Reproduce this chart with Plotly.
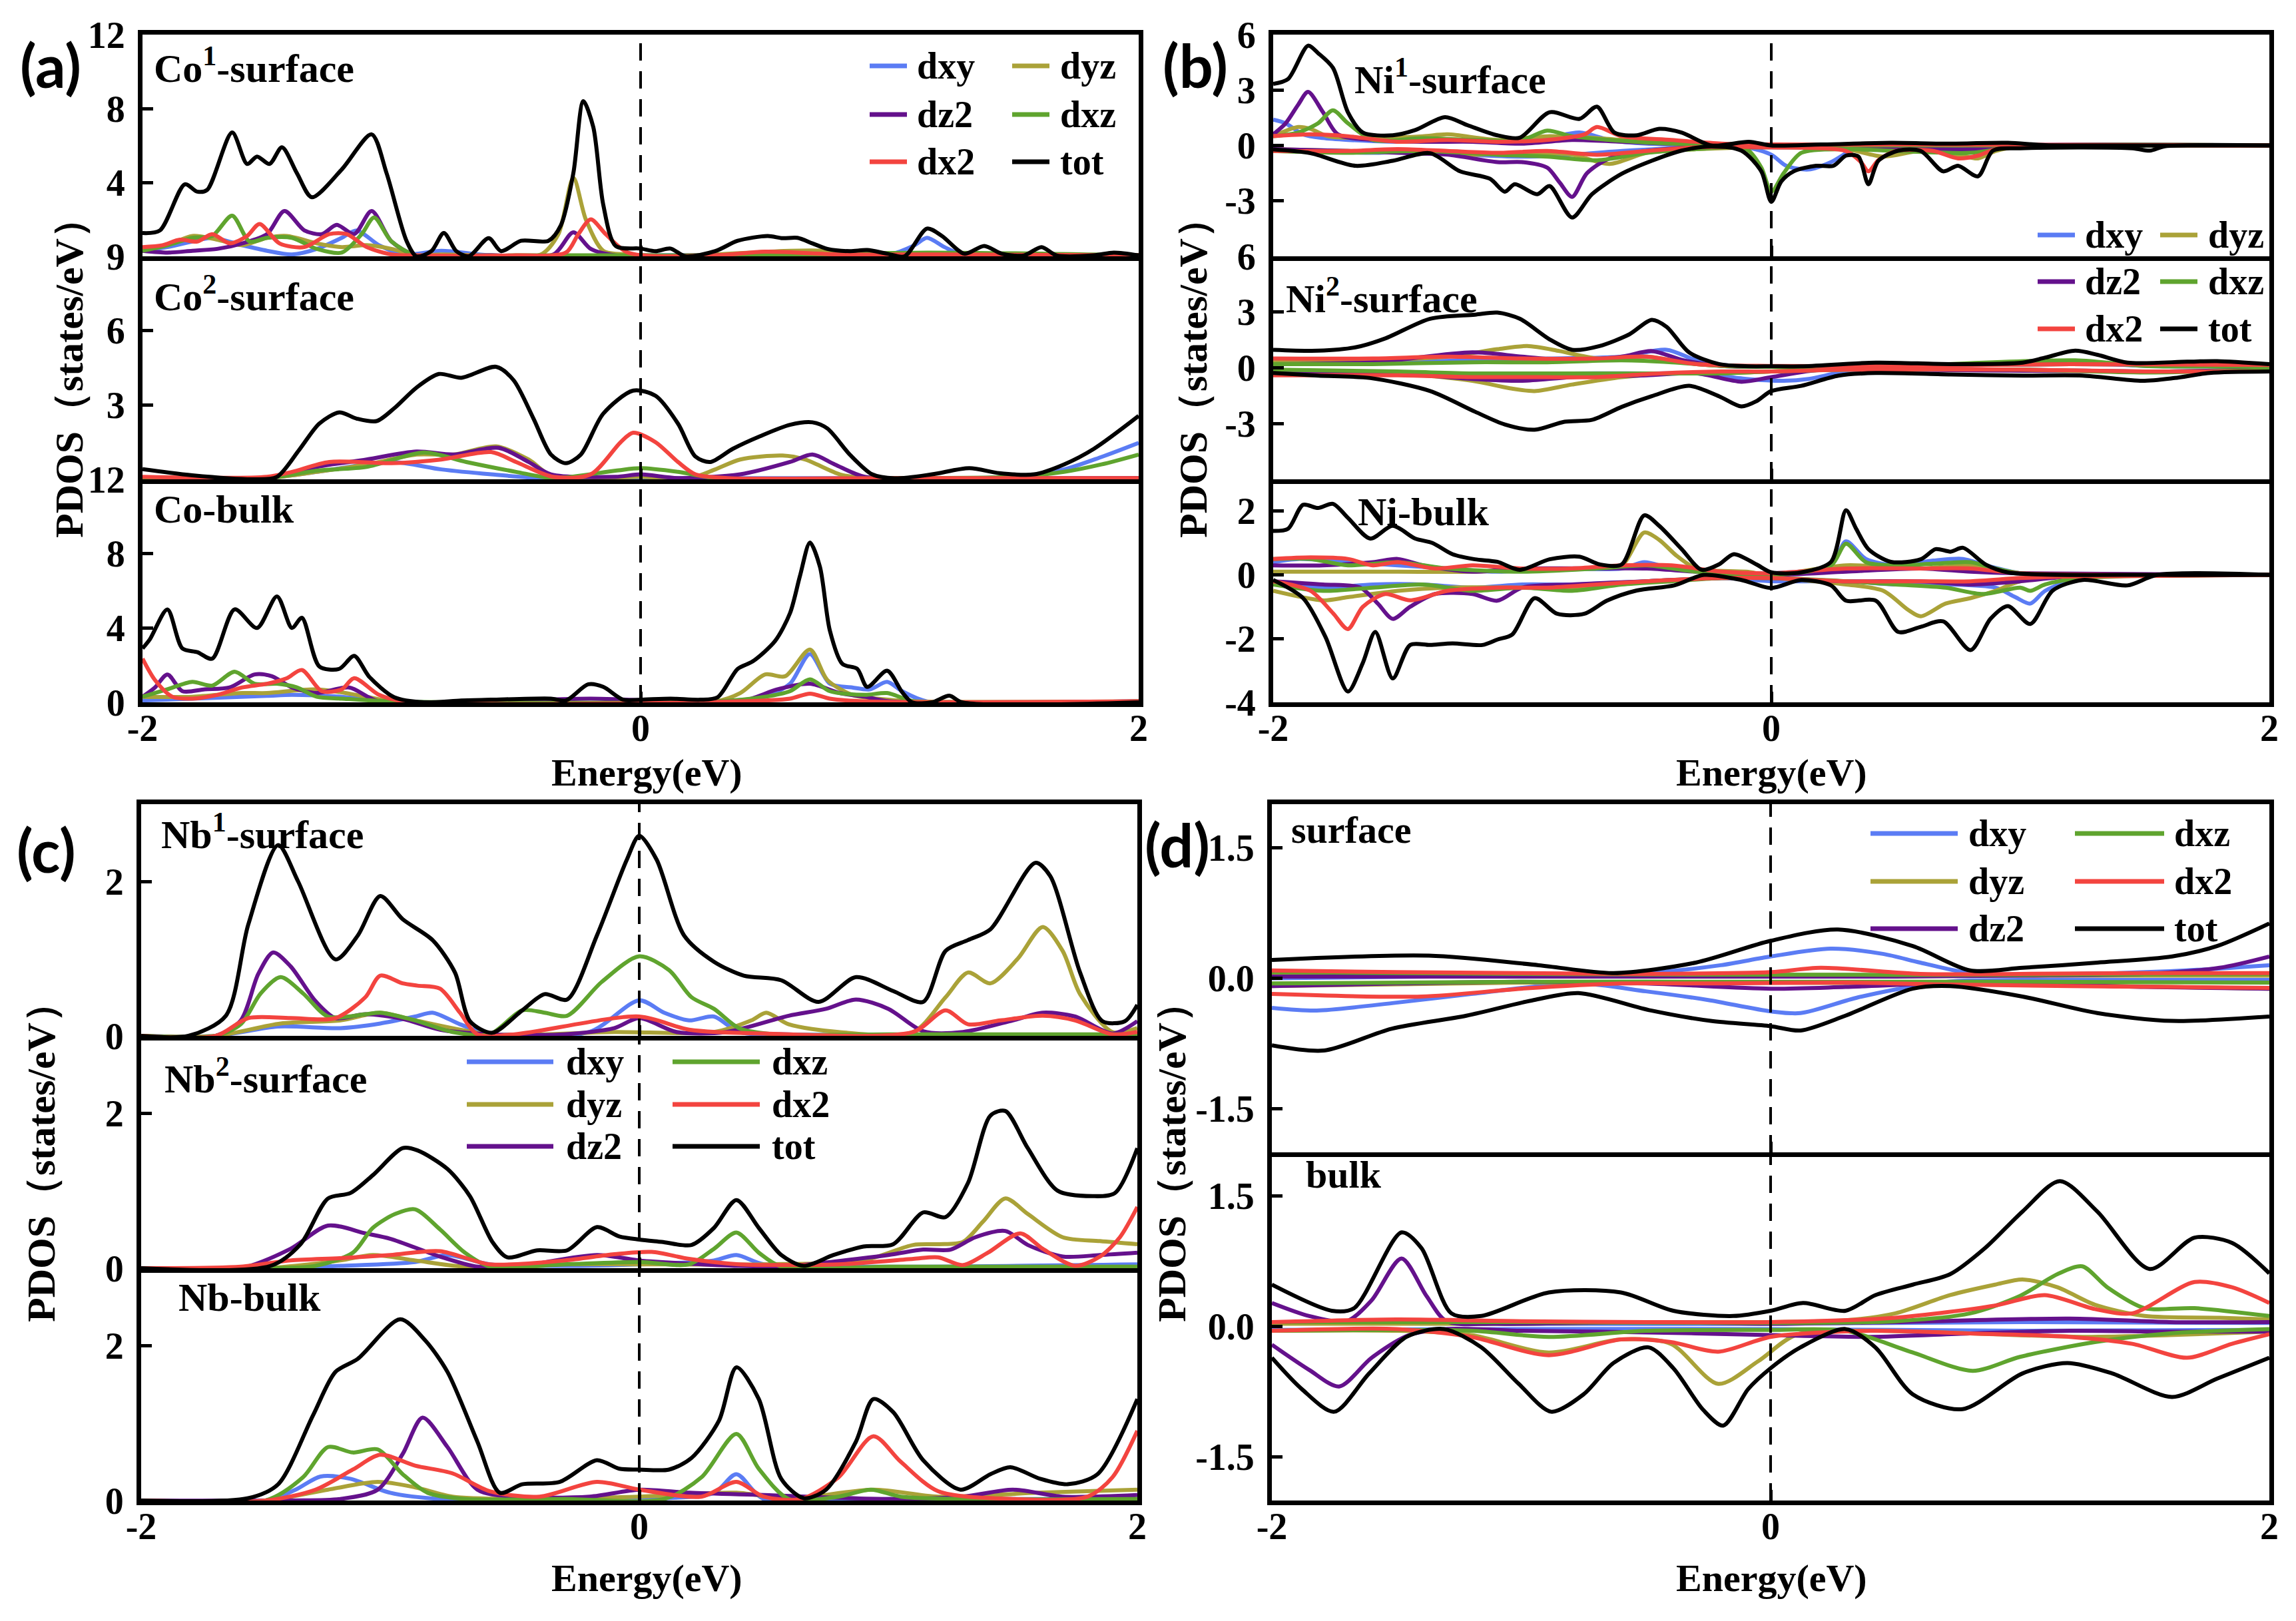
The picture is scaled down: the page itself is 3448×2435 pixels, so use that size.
import plotly.graph_objects as go

# ---------------- data (energy in eV, PDOS in states/eV) ----------------
# (a) Co1-surface
co1_tot_x = [-2.00, -1.93, -1.83, -1.78, -1.74, -1.64, -1.58, -1.54, -1.49, -1.44, -1.38, -1.32, -1.20, -1.08,
             -1.02, -0.94, -0.90, -0.84, -0.79, -0.74, -0.69, -0.61, -0.56, -0.48, -0.37, -0.32, -0.27, -0.23,
             -0.19, -0.15, -0.10, 0.00, 0.06, 0.12, 0.18, 0.30, 0.39, 0.51, 0.57, 0.63, 0.69, 0.75, 0.84, 0.91,
             0.99, 1.06, 1.15, 1.21, 1.30, 1.38, 1.45, 1.54, 1.61, 1.67, 1.82, 1.90, 2.00]
co1_tot = [1.26, 1.40, 3.9, 3.5, 3.6, 6.7, 5.0, 5.4, 5.0, 5.9, 4.5, 3.2, 4.7, 6.6, 4.5, 0.84, 0.0, 0.28, 1.26,
           0.28, 0.0, 0.98, 0.28, 0.84, 0.84, 1.68, 4.5, 8.4, 7.0, 2.8, 0.56, 0.42, 0.28, 0.42, 0.0, 0.28, 0.84,
           1.1, 0.98, 1.0, 0.7, 0.4, 0.28, 0.34, 0.14, 0.0, 1.5, 1.1, 0.14, 0.56, 0.14, 0.05, 0.5, 0.05, 0.05,
           0.2, 0.05]
co1_dyz_x = [-2, -1.9, -1.8, -1.7, -1.6, -1.5, -1.42, -1.3, -1.2, -1.1, -1.0, -0.9, -0.8, -0.6, -0.4, -0.33,
             -0.27, -0.22, -0.15, -0.05, 0.2, 0.6, 0.75, 1.0, 1.5, 2.0]
co1_dyz = [0.3, 0.6, 1.1, 0.9, 0.6, 1.0, 1.1, 0.7, 0.5, 0.6, 0.4, 0.05, 0.1, 0.05, 0.1, 1.2, 4.25, 2.0, 0.3,
           0.1, 0.05, 0.3, 0.3, 0.05, 0.05, 0.05]
co1_dxz_x = [-2, -1.9, -1.8, -1.72, -1.64, -1.57, -1.5, -1.4, -1.3, -1.2, -1.12, -1.07, -1.0, -0.9, -0.5, 0,
             0.5, 1.15, 2]
co1_dxz = [0.3, 0.6, 1.0, 1.1, 2.2, 0.8, 1.0, 1.0, 0.4, 0.2, 1.2, 2.1, 0.8, 0.05, 0.05, 0.05, 0.05, 0.2, 0.05]
co1_dz2_x = [-2, -1.9, -1.8, -1.7, -1.6, -1.5, -1.43, -1.35, -1.28, -1.22, -1.15, -1.08, -1.0, -0.9, -0.6,
             -0.35, -0.27, -0.2, -0.1, 0.3, 2]
co1_dz2 = [0.3, 0.2, 0.3, 0.4, 0.7, 1.2, 2.45, 1.4, 1.2, 1.7, 1.2, 2.45, 0.8, 0.05, 0.05, 0.1, 1.3, 0.4, 0.05,
           0.05, 0.05]
co1_dx2_x = [-2, -1.92, -1.85, -1.78, -1.72, -1.65, -1.58, -1.53, -1.45, -1.35, -1.25, -1.18, -1.1, -1.0,
             -0.9, -0.5, -0.3, -0.25, -0.2, -0.14, -0.05, 0.3, 0.5, 0.8, 1.2, 2]
co1_dx2 = [0.5, 0.6, 0.9, 0.8, 1.2, 0.7, 1.1, 1.75, 0.7, 0.5, 1.2, 1.2, 0.5, 0.1, 0.05, 0.05, 0.2, 1.2, 2.0,
           1.2, 0.2, 0.05, 0.25, 0.1, 0.1, 0.05]
co1_dxy_x = [-2, -1.9, -1.8, -1.72, -1.6, -1.5, -1.4, -1.3, -1.2, -1.14, -1.05, -0.95, -0.8, -0.6, 0, 0.5,
             1.0, 1.1, 1.15, 1.22, 1.3, 2]
co1_dxy = [0.3, 0.5, 0.8, 1.0, 0.6, 0.3, 0.1, 0.4, 1.0, 1.4, 0.6, 0.1, 0.3, 0.05, 0.05, 0.1, 0.1, 0.6, 1.0,
           0.5, 0.05, 0.05]

# (a) Co2-surface
co2_tot_x = [-2.00, -1.80, -1.55, -1.46, -1.37, -1.29, -1.21, -1.14, -1.06, -0.99, -0.90, -0.81, -0.72, -0.58,
             -0.51, -0.43, -0.36, -0.30, -0.24, -0.15, -0.03, 0.06, 0.15, 0.22, 0.28, 0.37, 0.48, 0.60, 0.69,
             0.75, 0.84, 0.93, 1.02, 1.17, 1.32, 1.44, 1.58, 1.70, 1.82, 2.00]
co2_tot = [0.41, 0.16, 0.0, 0.1, 1.2, 2.25, 2.7, 2.45, 2.35, 2.86, 3.7, 4.25, 4.1, 4.54, 4.0, 2.45, 1.0, 0.65,
           1.0, 2.65, 3.58, 3.37, 2.25, 0.92, 0.7, 1.23, 1.74, 2.2, 2.3, 2.05, 1.0, 0.2, 0.04, 0.2, 0.45, 0.25,
           0.2, 0.6, 1.23, 2.56]
co2_dx2_x = [-2, -1.5, -1.4, -1.25, -1.0, -0.8, -0.6, -0.5, -0.35, -0.2, -0.08, -0.03, 0.06, 0.15, 0.22, 0.35,
             1, 2]
co2_dx2 = [0.1, 0.1, 0.3, 0.7, 0.65, 0.8, 1.1, 0.7, 0.1, 0.2, 1.5, 1.88, 1.5, 0.7, 0.2, 0.05, 0.05, 0.05]
co2_dz2_x = [-2, -1.5, -1.3, -1.1, -0.9, -0.75, -0.57, -0.45, -0.36, -0.1, 0, 0.15, 0.4, 0.6, 0.69, 0.78, 0.9,
             1.2, 2]
co2_dz2 = [0.05, 0.05, 0.5, 0.8, 1.12, 1.0, 1.27, 0.7, 0.2, 0.1, 0.2, 0.05, 0.2, 0.7, 1.0, 0.6, 0.1, 0.05, 0.05]
co2_dyz_x = [-2, -1.5, -1.3, -1.1, -0.9, -0.75, -0.58, -0.45, -0.35, 0, 0.2, 0.3, 0.4, 0.57, 0.66, 0.8, 0.9, 2]
co2_dyz = [0.05, 0.05, 0.3, 0.6, 1.0, 1.0, 1.33, 0.8, 0.1, 0.1, 0.05, 0.4, 0.8, 0.96, 0.8, 0.2, 0.05, 0.05]
co2_dxz_x = [-2, -1.5, -1.3, -1.1, -0.87, -0.7, -0.5, -0.35, -0.1, 0.0, 0.15, 0.3, 1.0, 1.5, 1.7, 1.85, 2]
co2_dxz = [0.05, 0.05, 0.35, 0.5, 1.08, 0.7, 0.3, 0.05, 0.35, 0.45, 0.3, 0.05, 0.05, 0.1, 0.3, 0.6, 1.0]
co2_dxy_x = [-2, -1.5, -1.3, -1.0, -0.8, -0.6, -0.4, 0, 0.5, 1.0, 1.5, 1.7, 1.85, 2]
co2_dxy = [0.05, 0.05, 0.3, 0.7, 0.4, 0.2, 0.05, 0.05, 0.05, 0.05, 0.1, 0.4, 0.9, 1.47]

# (a) Co-bulk
cob_tot_x = [-2.00, -1.97, -1.90, -1.84, -1.78, -1.72, -1.63, -1.54, -1.46, -1.40, -1.36, -1.29, -1.21, -1.15,
             -1.09, -0.99, -0.87, -0.72, -0.60, -0.36, -0.30, -0.21, -0.15, -0.07, 0.00, 0.12, 0.24, 0.31, 0.39,
             0.45, 0.54, 0.60, 0.64, 0.68, 0.72, 0.76, 0.81, 0.87, 0.91, 0.99, 1.05, 1.09, 1.17, 1.24, 1.29, 2.00]
cob_tot = [2.9, 3.4, 5.0, 2.9, 2.7, 2.35, 5.0, 4.0, 5.7, 4.0, 4.55, 1.93, 1.8, 2.5, 1.38, 0.28, 0.0, 0.1, 0.14,
           0.2, 0.1, 0.97, 0.83, 0.14, 0.14, 0.2, 0.14, 0.28, 1.8, 2.2, 3.3, 4.8, 6.8, 8.6, 7.3, 3.86, 2.07, 1.8,
           0.83, 1.7, 0.55, 0.0, 0.0, 0.36, 0.0, 0.0]
cob_dyz_x = [-2, -1.8, -1.6, -1.5, -1.3, -1.1, -1, 0.3, 0.4, 0.5, 0.58, 0.68, 0.75, 0.85, 0.95, 1.1, 2]
cob_dyz = [0.3, 0.3, 0.5, 0.5, 0.7, 0.3, 0.05, 0.05, 0.5, 1.5, 1.4, 2.84, 1.2, 0.4, 0.2, 0.05, 0.05]
cob_dxy_x = [-2, -1.8, -1.5, -1.4, -1.2, -1.0, 0.3, 0.5, 0.6, 0.68, 0.76, 0.85, 0.92, 0.99, 1.05, 1.15, 2]
cob_dxy = [0.1, 0.2, 0.35, 0.4, 0.3, 0.05, 0.05, 0.3, 1.0, 2.6, 1.0, 0.8, 0.7, 1.1, 0.6, 0.05, 0.05]
cob_dxz_x = [-2, -1.9, -1.8, -1.72, -1.63, -1.55, -1.46, -1.38, -1.3, -1.2, -1.0, 0.3, 0.5, 0.6, 0.68, 0.76,
             0.9, 0.99, 1.1, 2]
cob_dxz = [0.3, 0.7, 1.1, 0.9, 1.65, 1.0, 1.0, 0.8, 0.3, 0.2, 0.05, 0.05, 0.3, 0.6, 1.24, 0.6, 0.4, 0.5, 0.05,
           0.05]
cob_dz2_x = [-2, -1.95, -1.9, -1.84, -1.75, -1.65, -1.55, -1.48, -1.4, -1.3, -1.17, -1.05, -0.2, 0.4, 0.55, 0.68,
             0.8, 0.9, 1.0, 2]
cob_dz2 = [0.3, 0.8, 1.5, 0.6, 0.7, 0.8, 1.5, 1.4, 0.8, 0.5, 0.8, 0.05, 0.2, 0.05, 0.7, 1.0, 0.5, 0.3, 0.05, 0.05]
cob_dx2_x = [-2, -1.95, -1.88, -1.8, -1.7, -1.6, -1.5, -1.42, -1.36, -1.28, -1.2, -1.15, -1.05, -0.95, 0.4, 0.6,
             0.68, 0.76, 0.9, 2]
cob_dx2 = [2.35, 1.2, 0.3, 0.2, 0.4, 0.8, 1.0, 1.3, 1.74, 0.6, 0.7, 1.3, 0.4, 0.05, 0.05, 0.2, 0.47, 0.2, 0.05,
           0.05]

# (b) Ni1-surface, spin up / spin down
ni1_tot_up_x = [-2.00, -1.94, -1.86, -1.82, -1.76, -1.70, -1.64, -1.52, -1.43, -1.31, -1.22, -1.10, -1.01, -0.89,
                -0.77, -0.70, -0.63, -0.54, -0.45, -0.36, -0.24, -0.09, 0.00, 0.20, 0.48, 0.70, 0.95, 1.10, 1.50,
                2.00]
ni1_tot_up = [3.33, 3.6, 5.4, 5.0, 4.2, 1.8, 0.7, 0.55, 0.83, 1.53, 1.1, 0.55, 0.42, 1.8, 1.44, 2.1, 0.7, 0.55,
              0.9, 0.7, 0.0, 0.2, 0.0, 0.05, 0.14, 0.1, 0.14, 0.02, 0.0, 0.0]
ni1_tot_dn_x = [-2.00, -1.85, -1.67, -1.52, -1.37, -1.25, -1.13, -1.07, -1.03, -0.94, -0.89, -0.80, -0.72, -0.60,
                -0.48, -0.36, -0.24, -0.12, -0.04, 0.00, 0.04, 0.09, 0.18, 0.25, 0.30, 0.35, 0.39, 0.43, 0.51,
                0.60, 0.69, 0.75, 0.83, 0.89, 1.00, 1.45, 1.52, 1.58, 2.00]
ni1_tot_dn = [-0.22, -0.42, -1.1, -0.83, -0.42, -1.4, -1.8, -2.5, -2.1, -2.64, -2.2, -3.9, -2.64, -1.53, -0.83,
              -0.28, -0.05, -0.28, -1.4, -3.05, -1.95, -1.4, -1.1, -1.1, -0.55, -0.6, -2.1, -0.83, -0.28, -0.3,
              -1.4, -1.1, -1.67, -0.28, -0.15, -0.15, -0.28, -0.05, 0.0]
ni1_dxy_up_x = [-2, -1.95, -1.88, -1.8, -1.7, -1.5, -1.3, -1.1, -0.9, -0.77, -0.65, -0.5, -0.3, 0, 0.5, 1, 2]
ni1_dxy_up = [1.4, 1.2, 0.6, 0.4, 0.3, 0.2, 0.3, 0.2, 0.4, 0.7, 0.3, 0.1, 0.05, 0.0, 0.02, 0.02, 0]
ni1_dz2_up_x = [-2, -1.95, -1.9, -1.86, -1.8, -1.74, -1.6, -1.4, -1.2, -1.0, -0.8, -0.6, -0.3, 0, 2]
ni1_dz2_up = [0.6, 1.2, 2.2, 2.9, 1.8, 0.6, 0.3, 0.2, 0.2, 0.1, 0.3, 0.2, 0.05, 0, 0]
ni1_dxz_up_x = [-2, -1.9, -1.82, -1.76, -1.7, -1.6, -1.4, -1.2, -1.0, -0.9, -0.8, -0.65, -0.4, 0, 2]
ni1_dxz_up = [0.5, 0.7, 1.2, 1.9, 1.2, 0.3, 0.4, 0.3, 0.3, 0.8, 0.5, 0.3, 0.1, 0, 0]
ni1_dyz_up_x = [-2, -1.9, -1.85, -1.78, -1.6, -1.4, -1.3, -1.1, -0.9, -0.7, -0.5, -0.2, 0, 2]
ni1_dyz_up = [0.5, 1.0, 0.9, 0.5, 0.4, 0.5, 0.6, 0.3, 0.5, 0.4, 0.2, 0.05, 0, 0]
ni1_dx2_up_x = [-2, -1.85, -1.7, -1.5, -1.3, -1.1, -0.9, -0.75, -0.7, -0.6, -0.4, -0.2, 0, 0.5, 2]
ni1_dx2_up = [0.5, 0.6, 0.5, 0.2, 0.3, 0.2, 0.3, 0.6, 1.0, 0.5, 0.3, 0.1, 0.05, 0.05, 0]
ni1_dxy_dn_x = [-2, -1.8, -1.6, -1.4, -1.2, -1.0, -0.8, -0.6, -0.3, -0.1, 0, 0.06, 0.15, 0.24, 0.32, 0.4, 0.6,
                0.8, 1.0, 2]
ni1_dxy_dn = [-0.3, -0.3, -0.4, -0.3, -0.5, -0.6, -0.5, -0.3, -0.1, -0.1, -0.5, -1.1, -1.3, -0.9, -0.3, -0.2,
              -0.2, -0.3, -0.05, 0]
ni1_dz2_dn_x = [-2, -1.7, -1.5, -1.3, -1.1, -1.0, -0.9, -0.85, -0.8, -0.74, -0.65, -0.5, -0.3, 0, 0.4, 0.8, 1, 2]
ni1_dz2_dn = [-0.2, -0.3, -0.4, -0.5, -0.9, -0.9, -1.2, -2.0, -2.78, -1.5, -0.7, -0.3, -0.1, -0.1, -0.1, -0.2,
              0, 0]
ni1_dxz_dn_x = [-2, -1.7, -1.4, -1.1, -0.9, -0.7, -0.5, -0.3, -0.1, -0.04, 0, 0.05, 0.12, 0.3, 0.5, 0.8, 1, 2]
ni1_dxz_dn = [-0.3, -0.4, -0.3, -0.5, -0.6, -0.8, -0.4, -0.2, -0.2, -1.2, -2.5, -1.5, -0.4, -0.2, -0.3, -0.4,
              -0.05, 0]
ni1_dyz_dn_x = [-2, -1.7, -1.4, -1.2, -1.0, -0.8, -0.65, -0.5, -0.3, 0, 0.3, 0.45, 0.6, 0.75, 0.83, 0.9, 1.0, 2]
ni1_dyz_dn = [-0.2, -0.3, -0.4, -0.5, -0.4, -0.5, -1.0, -0.4, -0.2, -0.1, -0.2, -0.6, -0.3, -0.5, -0.7, -0.3,
              -0.05, 0]
ni1_dx2_dn_x = [-2, -1.7, -1.5, -1.3, -1.1, -0.9, -0.7, -0.5, -0.3, 0, 0.3, 0.36, 0.39, 0.43, 0.5, 0.65, 0.75,
                0.83, 0.9, 1.0, 2]
ni1_dx2_dn = [-0.3, -0.3, -0.2, -0.3, -0.4, -0.3, -0.5, -0.3, -0.1, -0.1, -0.3, -0.9, -1.4, -0.8, -0.3, -0.3,
              -0.7, -0.55, -0.2, -0.05, 0]

# (b) Ni2-surface
ni2_tot_up_x = [-2.00, -1.82, -1.67, -1.55, -1.37, -1.19, -1.10, -1.01, -0.89, -0.80, -0.69, -0.57, -0.48, -0.42,
                -0.33, -0.21, -0.09, 0.00, 0.12, 0.42, 0.72, 1.01, 1.10, 1.22, 1.31, 1.43, 1.67, 1.79, 2.00]
ni2_tot_up = [0.97, 0.92, 1.1, 1.58, 2.64, 2.86, 2.97, 2.64, 1.53, 0.97, 1.17, 1.8, 2.58, 2.2, 0.83, 0.2, 0.08,
              0.08, 0.08, 0.28, 0.2, 0.28, 0.55, 0.92, 0.7, 0.28, 0.33, 0.36, 0.2]
ni2_tot_dn_x = [-2.00, -1.82, -1.61, -1.37, -1.19, -1.07, -0.95, -0.83, -0.72, -0.60, -0.48, -0.33, -0.21, -0.12,
                -0.06, 0.00, 0.12, 0.27, 0.42, 0.72, 1.01, 1.25, 1.49, 1.62, 1.76, 2.00]
ni2_tot_dn = [-0.28, -0.42, -0.55, -1.25, -2.36, -3.05, -3.33, -2.9, -2.8, -2.1, -1.53, -0.97, -1.53, -2.08, -1.8,
              -1.25, -0.97, -0.42, -0.28, -0.36, -0.42, -0.42, -0.7, -0.55, -0.28, -0.2]
ni2_dxy_up_x = [-2, -1.6, -1.2, -0.9, -0.6, -0.42, -0.3, -0.15, 0, 0.5, 1.22, 1.5, 2]
ni2_dxy_up = [0.3, 0.3, 0.4, 0.5, 0.6, 0.97, 0.4, 0.1, 0.05, 0.1, 0.3, 0.1, 0.1]
ni2_dz2_up_x = [-2, -1.6, -1.2, -1.0, -0.8, -0.6, -0.48, -0.35, -0.2, 0, 0.5, 1.2, 2]
ni2_dz2_up = [0.2, 0.3, 0.83, 0.6, 0.4, 0.6, 0.9, 0.4, 0.1, 0.05, 0.1, 0.2, 0.1]
ni2_dxz_up_x = [-2, -1.6, -1.2, -0.9, -0.6, -0.4, -0.2, 0, 0.5, 1.22, 1.5, 2]
ni2_dxz_up = [0.2, 0.2, 0.3, 0.3, 0.4, 0.3, 0.1, 0.05, 0.1, 0.4, 0.1, 0.1]
ni2_dyz_up_x = [-2, -1.6, -1.3, -1.1, -0.98, -0.85, -0.7, -0.5, -0.3, 0, 0.5, 1.2, 2]
ni2_dyz_up = [0.3, 0.4, 0.6, 1.0, 1.17, 0.9, 0.5, 0.6, 0.2, 0.05, 0.1, 0.2, 0.1]
ni2_dx2_up_x = [-2, -1.6, -1.3, -1.0, -0.7, -0.5, -0.3, 0, 0.5, 1.2, 2]
ni2_dx2_up = [0.5, 0.5, 0.6, 0.5, 0.5, 0.6, 0.2, 0.1, 0.1, 0.2, 0.15]
ni2_dxy_dn_x = [-2, -1.5, -1.1, -0.8, -0.5, -0.3, -0.1, 0.05, 0.15, 0.3, 0.5, 1.0, 1.5, 2]
ni2_dxy_dn = [-0.2, -0.3, -0.4, -0.3, -0.3, -0.3, -0.6, -0.7, -0.6, -0.2, -0.1, -0.1, -0.2, -0.1]
ni2_dz2_dn_x = [-2, -1.5, -1.2, -1.0, -0.8, -0.5, -0.3, -0.12, 0, 0.2, 0.5, 1.5, 2]
ni2_dz2_dn = [-0.2, -0.3, -0.6, -0.7, -0.5, -0.4, -0.3, -0.75, -0.5, -0.1, -0.1, -0.2, -0.1]
ni2_dxz_dn_x = [-2, -1.5, -1.2, -0.9, -0.5, -0.2, 0, 0.3, 1.0, 1.5, 2]
ni2_dxz_dn = [-0.1, -0.2, -0.3, -0.3, -0.3, -0.3, -0.2, -0.1, -0.1, -0.25, -0.1]
ni2_dyz_dn_x = [-2, -1.5, -1.2, -1.05, -0.95, -0.8, -0.6, -0.4, -0.2, 0, 0.3, 1.0, 1.5, 2]
ni2_dyz_dn = [-0.2, -0.3, -0.7, -1.1, -1.25, -0.9, -0.5, -0.3, -0.3, -0.2, -0.1, -0.1, -0.2, -0.1]
ni2_dx2_dn_x = [-2, -1.5, -1.2, -1.0, -0.7, -0.45, -0.2, 0, 0.3, 1.0, 1.5, 2]
ni2_dx2_dn = [-0.4, -0.4, -0.5, -0.5, -0.5, -0.3, -0.2, -0.2, -0.1, -0.1, -0.2, -0.2]

# (b) Ni-bulk
nib_tot_up_x = [-2.00, -1.94, -1.88, -1.82, -1.76, -1.70, -1.61, -1.52, -1.43, -1.36, -1.28, -1.19, -1.10, -1.01,
                -0.89, -0.77, -0.69, -0.60, -0.51, -0.45, -0.36, -0.28, -0.21, -0.15, -0.06, 0.00, 0.12, 0.24,
                0.30, 0.34, 0.39, 0.48, 0.60, 0.66, 0.72, 0.77, 0.86, 0.95, 1.55, 2.00]
nib_tot_up = [1.38, 1.45, 2.2, 2.1, 2.23, 1.79, 1.14, 1.54, 1.14, 1.0, 0.65, 0.49, 0.41, 0.16, 0.49, 0.57, 0.33,
              0.33, 1.87, 1.54, 0.81, 0.16, 0.33, 0.65, 0.33, 0.08, 0.08, 0.41, 2.03, 1.46, 0.81, 0.41, 0.49,
              0.81, 0.73, 0.85, 0.33, 0.08, 0.0, 0.0]
nib_tot_dn_x = [-2.00, -1.88, -1.79, -1.70, -1.64, -1.59, -1.52, -1.45, -1.37, -1.28, -1.16, -1.10, -1.04, -0.95,
                -0.86, -0.75, -0.66, -0.54, -0.39, -0.27, -0.12, 0.00, 0.12, 0.24, 0.30, 0.42, 0.51, 0.60, 0.69,
                0.80, 0.88, 0.95, 1.04, 1.13, 1.25, 1.43, 1.55, 2.00]
nib_tot_dn = [-0.16, -0.73, -1.95, -3.66, -2.76, -1.79, -3.25, -2.2, -2.2, -2.15, -2.2, -2.03, -1.87, -0.73,
              -1.22, -1.22, -0.81, -0.49, -0.33, 0.0, -0.16, -0.41, -0.16, -0.33, -0.81, -0.81, -1.79, -1.63,
              -1.46, -2.36, -1.38, -0.98, -1.54, -0.49, -0.16, -0.33, 0.0, 0.0]
nib_dxy_up_x = [-2, -1.9, -1.7, -1.5, -1.3, -1.1, -0.9, -0.6, -0.51, -0.4, -0.2, 0, 0.24, 0.3, 0.38, 0.5, 0.65,
                0.77, 0.86, 1.0, 1.2, 2]
nib_dxy_up = [0.4, 0.5, 0.4, 0.3, 0.2, 0.1, 0.2, 0.2, 0.4, 0.2, 0.1, 0.05, 0.3, 1.05, 0.5, 0.3, 0.45, 0.5, 0.3,
              0.05, 0.02, 0]
nib_dz2_up_x = [-2, -1.8, -1.6, -1.5, -1.4, -1.2, -1.0, -0.7, -0.5, -0.3, 0, 0.3, 0.6, 0.8, 1.0, 2]
nib_dz2_up = [0.3, 0.3, 0.4, 0.5, 0.3, 0.1, 0.2, 0.2, 0.2, 0.1, 0.0, 0.1, 0.2, 0.1, 0.05, 0]
nib_dxz_up_x = [-2, -1.85, -1.7, -1.5, -1.3, -1.0, -0.7, -0.5, -0.3, 0, 0.24, 0.3, 0.38, 0.5, 0.65, 0.8, 0.9,
                1.0, 2]
nib_dxz_up = [0.5, 0.5, 0.3, 0.4, 0.2, 0.1, 0.2, 0.3, 0.1, 0.0, 0.3, 0.98, 0.4, 0.3, 0.35, 0.4, 0.2, 0.05, 0]
nib_dyz_up_x = [-2, -1.8, -1.5, -1.2, -0.9, -0.7, -0.6, -0.51, -0.45, -0.38, -0.3, -0.1, 0, 0.3, 0.6, 0.8, 1.0, 2]
nib_dyz_up = [0.1, 0.1, 0.1, 0.1, 0.2, 0.2, 0.3, 1.33, 1.1, 0.6, 0.2, 0.1, 0.0, 0.3, 0.2, 0.3, 0.05, 0]
nib_dx2_up_x = [-2, -1.85, -1.7, -1.6, -1.5, -1.35, -1.2, -1.0, -0.8, -0.6, -0.4, -0.2, 0, 0.3, 0.6, 0.8, 1.0, 2]
nib_dx2_up = [0.5, 0.55, 0.5, 0.3, 0.4, 0.2, 0.3, 0.2, 0.2, 0.3, 0.3, 0.1, 0.05, 0.2, 0.2, 0.2, 0.05, 0]
nib_dxy_dn_x = [-2, -1.8, -1.6, -1.4, -1.2, -1.0, -0.8, -0.5, -0.2, 0, 0.3, 0.5, 0.7, 0.9, 0.98, 1.04, 1.1, 1.25, 2]
nib_dxy_dn = [-0.2, -0.4, -0.3, -0.3, -0.4, -0.3, -0.3, -0.2, -0.1, -0.2, -0.2, -0.3, -0.3, -0.4, -0.7, -0.9,
              -0.5, -0.1, 0]
nib_dz2_dn_x = [-2, -1.8, -1.65, -1.58, -1.52, -1.45, -1.35, -1.2, -1.1, -1.0, -0.8, -0.5, -0.2, 0, 0.3, 0.6, 0.8,
                1.0, 1.2, 2]
nib_dz2_dn = [-0.2, -0.3, -0.4, -0.9, -1.38, -1.0, -0.6, -0.6, -0.81, -0.4, -0.3, -0.2, -0.1, -0.1, -0.2, -0.2,
              -0.3, -0.2, -0.05, 0]
nib_dxz_dn_x = [-2, -1.8, -1.6, -1.4, -1.2, -1.0, -0.8, -0.6, -0.4, -0.2, 0, 0.3, 0.5, 0.7, 0.85, 1.0, 1.04, 1.1,
                1.25, 2]
nib_dxz_dn = [-0.3, -0.5, -0.4, -0.3, -0.5, -0.4, -0.5, -0.3, -0.2, -0.1, -0.1, -0.2, -0.3, -0.4, -0.6, -0.4,
              -0.5, -0.3, -0.1, 0]
nib_dyz_dn_x = [-2, -1.8, -1.7, -1.5, -1.3, -1.0, -0.8, -0.5, -0.2, 0, 0.3, 0.45, 0.55, 0.6, 0.7, 0.8, 0.9, 1.0,
                1.2, 2]
nib_dyz_dn = [-0.5, -0.8, -0.7, -0.5, -0.4, -0.4, -0.4, -0.2, -0.1, -0.1, -0.3, -0.5, -1.1, -1.3, -0.9, -0.73,
              -0.5, -0.2, -0.05, 0]
nib_dx2_dn_x = [-2, -1.85, -1.76, -1.7, -1.64, -1.55, -1.45, -1.3, -1.1, -0.9, -0.7, -0.5, -0.2, 0, 0.3, 0.6, 0.8,
                1.0, 1.2, 2]
nib_dx2_dn = [-0.2, -0.5, -1.2, -1.7, -1.0, -0.6, -0.8, -0.5, -0.4, -0.4, -0.3, -0.2, -0.1, -0.1, -0.2, -0.2,
              -0.2, -0.1, -0.05, 0]

# (c) Nb1-surface
nb1_tot_x = [-2.00, -1.81, -1.66, -1.57, -1.45, -1.37, -1.22, -1.13, -1.04, -0.95, -0.83, -0.74, -0.68, -0.59,
             -0.47, -0.38, -0.29, -0.17, -0.05, 0.00, 0.07, 0.18, 0.30, 0.42, 0.57, 0.72, 0.87, 1.02, 1.14, 1.23,
             1.32, 1.41, 1.59, 1.65, 1.77, 1.86, 1.95, 2.00]
nb1_tot = [0.0, 0.0, 0.26, 1.44, 2.47, 2.0, 0.99, 1.3, 1.81, 1.51, 1.24, 0.82, 0.19, 0.04, 0.33, 0.54, 0.47, 1.3,
           2.28, 2.59, 2.28, 1.3, 0.96, 0.78, 0.72, 0.44, 0.76, 0.58, 0.44, 1.1, 1.24, 1.38, 2.24, 2.07, 0.82,
           0.19, 0.19, 0.4]
nb1_dz2_x = [-2, -1.7, -1.6, -1.53, -1.47, -1.4, -1.3, -1.22, -1.1, -0.95, -0.8, -0.6, -0.3, -0.1, 0, 0.15, 0.35,
             0.6, 0.75, 0.87, 1.0, 1.14, 1.3, 1.5, 1.62, 1.75, 1.9, 2]
nb1_dz2 = [0, 0, 0.2, 0.8, 1.08, 0.9, 0.45, 0.23, 0.28, 0.22, 0.08, 0.02, 0.02, 0.1, 0.23, 0.05, 0.05, 0.26, 0.35,
           0.47, 0.35, 0.06, 0.05, 0.2, 0.3, 0.25, 0.03, 0.19]
nb1_dxz_x = [-2, -1.7, -1.6, -1.52, -1.44, -1.35, -1.25, -1.1, -1.04, -0.9, -0.75, -0.6, -0.47, -0.38, -0.29,
             -0.15, 0, 0.12, 0.21, 0.3, 0.4, 0.55, 1, 2]
nb1_dxz = [0, 0, 0.15, 0.55, 0.76, 0.55, 0.25, 0.28, 0.3, 0.2, 0.05, 0.02, 0.33, 0.3, 0.26, 0.7, 1.03, 0.85, 0.5,
           0.35, 0.1, 0.02, 0.02, 0.02]
nb1_dyz_x = [-2, -1.7, -1.44, -1.2, -1.04, -0.9, -0.6, -0.1, 0.3, 0.45, 0.51, 0.6, 0.8, 1.1, 1.23, 1.32, 1.41,
             1.52, 1.62, 1.7, 1.77, 1.9, 2]
nb1_dyz = [0, 0, 0.16, 0.2, 0.3, 0.2, 0.02, 0.05, 0.05, 0.2, 0.3, 0.15, 0.05, 0.05, 0.5, 0.82, 0.68, 1.0, 1.41,
           1.1, 0.54, 0.05, 0.1]
nb1_dx2_x = [-2, -1.7, -1.57, -1.4, -1.22, -1.1, -1.04, -0.95, -0.89, -0.8, -0.72, -0.65, -0.5, 0, 0.2, 0.5, 1.1,
             1.23, 1.32, 1.45, 1.62, 1.75, 1.9, 2]
nb1_dx2 = [0, 0, 0.23, 0.23, 0.23, 0.5, 0.78, 0.68, 0.65, 0.61, 0.3, 0.02, 0.02, 0.25, 0.08, 0.03, 0.05, 0.33,
           0.15, 0.2, 0.26, 0.2, 0.02, 0.05]
nb1_dxy_x = [-2, -1.7, -1.45, -1.2, -1.04, -0.9, -0.83, -0.72, -0.6, -0.2, 0, 0.1, 0.2, 0.3, 0.4, 0.6, 2]
nb1_dxy = [0, 0, 0.12, 0.1, 0.16, 0.25, 0.3, 0.15, 0.02, 0.05, 0.46, 0.3, 0.2, 0.25, 0.05, 0.02, 0.02]

# (c) Nb2-surface
nb2_tot_x = [-2.00, -1.48, -1.36, -1.25, -1.16, -1.07, -0.95, -0.89, -0.77, -0.68, -0.59, -0.53, -0.41, -0.29,
             -0.17, -0.08, 0.00, 0.09, 0.21, 0.30, 0.39, 0.48, 0.57, 0.66, 0.78, 0.90, 1.02, 1.14, 1.23, 1.32,
             1.41, 1.47, 1.56, 1.68, 1.82, 1.91, 2.00]
nb2_tot = [0.0, 0.03, 0.31, 0.9, 0.97, 1.2, 1.55, 1.52, 1.28, 0.93, 0.34, 0.14, 0.23, 0.23, 0.53, 0.41, 0.37,
           0.34, 0.3, 0.52, 0.88, 0.52, 0.17, 0.03, 0.17, 0.28, 0.31, 0.72, 0.66, 1.1, 1.97, 2.03, 1.55, 1.0,
           0.93, 0.97, 1.55]
nb2_dz2_x = [-2, -1.6, -1.4, -1.25, -1.1, -1.0, -0.8, -0.65, -0.5, -0.17, 0, 0.4, 0.6, 1.0, 1.14, 1.25, 1.35,
             1.47, 1.56, 1.7, 1.85, 2]
nb2_dz2 = [0, 0, 0.25, 0.55, 0.45, 0.38, 0.15, 0.02, 0.02, 0.17, 0.1, 0.03, 0.03, 0.17, 0.24, 0.24, 0.4, 0.48,
           0.3, 0.15, 0.17, 0.2]
nb2_dxz_x = [-2, -1.5, -1.3, -1.15, -1.07, -0.98, -0.9, -0.8, -0.7, -0.6, -0.3, 0, 0.2, 0.3, 0.39, 0.48, 0.57, 1, 2]
nb2_dxz = [0, 0, 0.03, 0.2, 0.52, 0.7, 0.76, 0.5, 0.2, 0.02, 0.05, 0.08, 0.05, 0.25, 0.46, 0.2, 0.02, 0.02, 0.02]
nb2_dyz_x = [-2, -1.5, -1.2, -1.07, -0.9, -0.7, -0.3, 0, 0.5, 0.9, 1.1, 1.2, 1.3, 1.38, 1.47, 1.56, 1.7, 1.85, 2]
nb2_dyz = [0, 0, 0.1, 0.17, 0.1, 0.02, 0.05, 0.05, 0.05, 0.1, 0.3, 0.31, 0.34, 0.6, 0.9, 0.7, 0.4, 0.35, 0.31]
nb2_dx2_x = [-2, -1.6, -1.4, -1.2, -1.0, -0.8, -0.6, -0.3, -0.1, 0.05, 0.2, 0.4, 0.8, 1.1, 1.2, 1.3, 1.4, 1.53,
             1.62, 1.75, 1.85, 1.93, 2]
nb2_dx2 = [0, 0.02, 0.1, 0.13, 0.17, 0.22, 0.05, 0.1, 0.18, 0.21, 0.12, 0.05, 0.05, 0.12, 0.14, 0.04, 0.2, 0.45,
           0.25, 0.03, 0.15, 0.4, 0.79]
nb2_dxy_x = [-2, -1.5, -1.2, -0.9, -0.77, -0.6, -0.3, 0, 0.3, 0.39, 0.5, 1.0, 2]
nb2_dxy = [0, 0, 0.03, 0.08, 0.17, 0.05, 0.03, 0.05, 0.1, 0.17, 0.05, 0.02, 0.05]

# (c) Nb-bulk
nbb_tot_x = [-2.00, -1.57, -1.45, -1.31, -1.22, -1.13, -0.96, -0.86, -0.77, -0.65, -0.56, -0.47, -0.32, -0.17,
             -0.08, 0.00, 0.12, 0.21, 0.32, 0.39, 0.48, 0.57, 0.66, 0.75, 0.87, 0.94, 1.02, 1.14, 1.29, 1.41, 1.49,
             1.61, 1.72, 1.84, 2.00]
nbb_tot = [0.0, 0.03, 0.21, 1.1, 1.66, 1.83, 2.34, 2.07, 1.66, 0.76, 0.1, 0.21, 0.24, 0.52, 0.41, 0.4, 0.4, 0.55,
           1.03, 1.72, 1.31, 0.28, 0.03, 0.14, 0.76, 1.31, 1.14, 0.52, 0.14, 0.34, 0.43, 0.28, 0.21, 0.34, 1.31]
nbb_dz2_x = [-2, -1.4, -1.2, -1.05, -0.95, -0.87, -0.77, -0.65, -0.5, -0.2, 0, 0.2, 0.5, 1.0, 1.3, 1.5, 1.7, 2]
nbb_dz2 = [0, 0, 0.02, 0.14, 0.6, 1.07, 0.69, 0.14, 0.05, 0.05, 0.14, 0.1, 0.07, 0.02, 0.05, 0.14, 0.05, 0.07]
nbb_dxz_x = [-2, -1.5, -1.35, -1.25, -1.15, -1.05, -0.95, -0.85, -0.7, -0.3, 0.1, 0.25, 0.39, 0.48, 0.6, 0.8,
             0.93, 1.05, 1.3, 2]
nbb_dxz = [0, 0, 0.3, 0.69, 0.62, 0.66, 0.34, 0.1, 0.02, 0.02, 0.02, 0.3, 0.86, 0.41, 0.02, 0.05, 0.14, 0.05,
           0.02, 0.02]
nbb_dx2_x = [-2, -1.5, -1.3, -1.15, -1.04, -0.9, -0.75, -0.6, -0.4, -0.17, 0, 0.25, 0.39, 0.5, 0.65, 0.8, 0.94,
             1.05, 1.2, 1.5, 1.8, 1.9, 2]
nbb_dx2 = [0, 0, 0.14, 0.4, 0.59, 0.45, 0.35, 0.12, 0.05, 0.24, 0.14, 0.05, 0.24, 0.05, 0.02, 0.3, 0.83, 0.5,
           0.12, 0.02, 0.05, 0.3, 0.9]
nbb_dxy_x = [-2, -1.5, -1.38, -1.28, -1.16, -1.0, -0.8, -0.5, 0, 0.3, 0.39, 0.5, 1, 2]
nbb_dxy = [0, 0, 0.14, 0.31, 0.28, 0.1, 0.02, 0.02, 0.02, 0.1, 0.34, 0.02, 0.02, 0.02]
nbb_dyz_x = [-2, -1.5, -1.25, -1.05, -0.9, -0.75, -0.5, 0, 0.39, 0.6, 0.94, 1.2, 1.6, 2]
nbb_dyz = [0, 0, 0.14, 0.24, 0.17, 0.05, 0.02, 0.05, 0.1, 0.02, 0.14, 0.05, 0.1, 0.14]

# (d) surface, spin up / spin down
ds_tot_up_x = [-2.00, -1.37, -0.93, -0.63, -0.30, 0.00, 0.27, 0.57, 0.80, 1.01, 1.31, 1.61, 1.79, 2.00]
ds_tot_up = [0.21, 0.26, 0.15, 0.06, 0.18, 0.43, 0.56, 0.37, 0.09, 0.12, 0.18, 0.25, 0.37, 0.63]
ds_tot_dn_x = [-2.00, -1.79, -1.52, -1.22, -0.95, -0.77, -0.48, -0.24, 0.00, 0.12, 0.30, 0.57, 0.72, 1.01, 1.31,
               1.61, 2.00]
ds_tot_dn = [-0.77, -0.83, -0.58, -0.43, -0.25, -0.17, -0.37, -0.49, -0.55, -0.6, -0.43, -0.12, -0.09, -0.21,
             -0.4, -0.49, -0.44]
ds_dxy_up_x = [-2, -1, -0.5, -0.2, 0, 0.24, 0.45, 0.6, 0.8, 1.2, 1.6, 2]
ds_dxy_up = [0.0, 0.03, 0.06, 0.15, 0.25, 0.34, 0.28, 0.18, 0.06, 0.05, 0.08, 0.15]
ds_dxy_dn_x = [-2, -1.82, -1.5, -1.2, -0.77, -0.5, -0.25, 0, 0.12, 0.35, 0.6, 0.75, 1, 2]
ds_dxy_dn = [-0.34, -0.37, -0.28, -0.18, -0.06, -0.15, -0.25, -0.38, -0.4, -0.22, -0.08, -0.03, -0.02, -0.02]
ds_dx2_up_x = [-2, -1.5, -1, -0.5, 0, 0.2, 0.6, 1, 1.5, 2]
ds_dx2_up = [0.09, 0.07, 0.06, 0.05, 0.07, 0.12, 0.05, 0.05, 0.06, 0.06]
ds_dx2_dn_x = [-2, -1.4, -1, -0.6, -0.2, 0.3, 0.7, 1.2, 1.6, 2]
ds_dx2_dn = [-0.18, -0.21, -0.12, -0.06, -0.06, -0.05, -0.07, -0.09, -0.1, -0.11]
ds_dxz_up_x = [-2, -1, 0, 1, 2]
ds_dxz_up = [0.07, 0.05, 0.04, 0.04, 0.05]
ds_dxz_dn_x = [-2, -1, 0, 1, 2]
ds_dxz_dn = [-0.06, -0.04, -0.04, -0.04, -0.05]
ds_dyz_up_x = [-2, -1, 0, 1, 2]
ds_dyz_up = [0.06, 0.04, 0.04, 0.03, 0.03]
ds_dyz_dn_x = [-2, -1, 0, 1, 1.6, 2]
ds_dyz_dn = [-0.09, -0.05, -0.05, -0.07, -0.1, -0.12]
ds_dz2_up_x = [-2, -1, 0, 0.5, 1, 1.5, 1.8, 2]
ds_dz2_up = [0.02, 0.02, 0.02, 0.02, 0.03, 0.05, 0.12, 0.25]
ds_dz2_dn_x = [-2, -1.5, -1, -0.5, 0, 0.3, 0.8, 1.5, 2]
ds_dz2_dn = [-0.09, -0.06, -0.04, -0.06, -0.12, -0.1, -0.05, -0.1, -0.12]

# (d) bulk
db_tot_up_x = [-2.00, -1.76, -1.67, -1.48, -1.40, -1.28, -1.16, -0.89, -0.60, -0.39, -0.15, 0.00, 0.13, 0.30,
               0.42, 0.57, 0.72, 0.86, 1.01, 1.16, 1.31, 1.52, 1.70, 1.85, 2.00]
db_tot_up = [0.48, 0.18, 0.21, 1.08, 0.9, 0.15, 0.12, 0.39, 0.39, 0.18, 0.12, 0.18, 0.27, 0.18, 0.36, 0.48, 0.6,
             0.9, 1.32, 1.67, 1.32, 0.66, 1.02, 0.96, 0.61]
db_tot_dn_x = [-2.00, -1.88, -1.75, -1.61, -1.46, -1.31, -1.16, -1.01, -0.88, -0.75, -0.63, -0.49, -0.39, -0.27,
               -0.19, -0.09, 0.00, 0.12, 0.30, 0.42, 0.57, 0.77, 1.01, 1.19, 1.37, 1.61, 1.79, 2.00]
db_tot_dn = [-0.36, -0.72, -0.98, -0.54, -0.12, -0.03, -0.24, -0.66, -0.98, -0.78, -0.42, -0.24, -0.48, -0.96,
             -1.14, -0.72, -0.48, -0.24, -0.03, -0.24, -0.78, -0.95, -0.54, -0.42, -0.54, -0.81, -0.6, -0.36]
db_dz2_up_x = [-2, -1.85, -1.7, -1.6, -1.48, -1.38, -1.3, -1.1, -0.5, 0, 0.5, 1.2, 1.6, 2]
db_dz2_up = [0.27, 0.12, 0.06, 0.3, 0.78, 0.35, 0.06, 0.03, 0.05, 0.03, 0.05, 0.09, 0.05, 0.05]
db_dz2_dn_x = [-2, -1.85, -1.73, -1.6, -1.45, -1.3, -1.0, -0.7, -0.3, 0, 0.4, 0.8, 1.2, 1.6, 2]
db_dz2_dn = [-0.21, -0.5, -0.69, -0.36, -0.1, -0.03, -0.05, -0.06, -0.08, -0.1, -0.12, -0.08, -0.05, -0.06, -0.06]
db_dyz_up_x = [-2, -1, -0.5, 0, 0.3, 0.5, 0.72, 0.9, 1.01, 1.15, 1.3, 1.5, 1.8, 2]
db_dyz_up = [0.03, 0.03, 0.05, 0.05, 0.07, 0.15, 0.36, 0.48, 0.54, 0.45, 0.25, 0.12, 0.1, 0.08]
db_dyz_dn_x = [-2, -1.5, -1.2, -0.89, -0.6, -0.4, -0.21, -0.05, 0.1, 0.4, 0.8, 1.25, 1.6, 2]
db_dyz_dn = [-0.05, -0.05, -0.1, -0.3, -0.15, -0.2, -0.66, -0.4, -0.1, -0.05, -0.08, -0.12, -0.1, -0.06]
db_dxz_up_x = [-2, -1, 0, 0.5, 0.8, 1.0, 1.15, 1.25, 1.35, 1.5, 1.7, 2]
db_dxz_up = [0.05, 0.05, 0.04, 0.06, 0.15, 0.35, 0.6, 0.69, 0.45, 0.21, 0.21, 0.12]
db_dxz_dn_x = [-2, -1.2, -0.89, -0.5, 0, 0.3, 0.57, 0.81, 1.0, 1.3, 1.6, 2]
db_dxz_dn = [-0.05, -0.05, -0.12, -0.05, -0.04, -0.05, -0.3, -0.51, -0.35, -0.18, -0.08, -0.03]
db_dx2_up_x = [-2, -1.5, -1, -0.5, 0, 0.5, 0.9, 1.1, 1.3, 1.45, 1.7, 1.85, 2]
db_dx2_up = [0.05, 0.08, 0.06, 0.05, 0.05, 0.1, 0.24, 0.36, 0.2, 0.15, 0.51, 0.45, 0.27]
db_dx2_dn_x = [-2, -1.5, -1.2, -0.89, -0.6, -0.4, -0.21, 0, 0.4, 0.8, 1.2, 1.45, 1.67, 1.85, 2]
db_dx2_dn = [-0.05, -0.03, -0.12, -0.33, -0.15, -0.18, -0.29, -0.12, -0.05, -0.08, -0.12, -0.2, -0.36, -0.2,
             -0.09]
db_dxy_up_x = [-2, -1, 0, 1, 2]
db_dxy_up = [0.04, 0.03, 0.03, 0.05, 0.04]
db_dxy_dn_x = [-2, -1, 0, 1, 2]
db_dxy_dn = [-0.04, -0.03, -0.03, -0.05, -0.04]

orbitals = ["dxy", "dyz", "dz2", "dxz", "dx2", "tot"]
colors = {"dxy": "#5b7cf4", "dyz": "#aaa238", "dz2": "#64118c",
          "dxz": "#5fa42e", "dx2": "#f3443f", "tot": "#000000"}

x_ticks = [-2, 0, 2]
x_ticktext = ["-2", "0", "2"]

# ---------------- layout helpers ----------------
# figure is a bit smaller than the window so the page body margin (8 px) does not overflow it
FW, FH = 3432, 2419
OFF = 8
SERIF = "Liberation Serif"


def fx(px):
    return (px - OFF) / FW


def fy(py):
    return 1 - (py - OFF) / FH


ticks_a1 = [4, 8, 12]
ticks_a2 = [3, 6, 9]
ticks_a3 = [0, 4, 8, 12]
ticks_b12 = [-3, 0, 3, 6]
ticks_b3 = [-4, -2, 0, 2]
ticks_c = [0, 2]
ticks_d = [-1.5, 0, 1.5]
ticktext_d = ["-1.5", "0.0", "1.5"]

XA = (214, 1710)
XB = (1912, 3408)
XC = (212, 1708)
XD = (1910, 3408)
# (x px, (top px, bottom px), y range, y ticks, y ticktext, x labels shown, top subplot of panel)
panels = [
    (XA, (52, 385), [0, 12], ticks_a1, None, False, True),
    (XA, (385, 720), [0, 9], ticks_a2, None, False, False),
    (XA, (720, 1055), [0, 12], ticks_a3, None, True, False),
    (XB, (52, 385), [-6, 6], ticks_b12, None, False, True),
    (XB, (385, 720), [-6, 6], ticks_b12, None, False, False),
    (XB, (720, 1055), [-4, 3], ticks_b3, None, True, False),
    (XC, (1208, 1556), [0, 3], ticks_c, None, False, True),
    (XC, (1556, 1905), [0, 3], ticks_c, None, False, False),
    (XC, (1905, 2254), [0, 3], ticks_c, None, True, False),
    (XD, (1208, 1731), [-2, 2], ticks_d, ticktext_d, False, True),
    (XD, (1731, 2254), [-2, 2], ticks_d, ticktext_d, True, False),
]

fig = go.Figure()


def add(k, x, y, orb):
    fig.add_trace(go.Scatter(
        x=x, y=y, mode="lines", name=orb, showlegend=False,
        line=dict(color=colors[orb], width=6, shape="spline", smoothing=0.8),
        xaxis="x" if k == 1 else f"x{k}", yaxis="y" if k == 1 else f"y{k}"))


plain = {
    1: {"dxy": (co1_dxy_x, co1_dxy), "dyz": (co1_dyz_x, co1_dyz), "dz2": (co1_dz2_x, co1_dz2),
        "dxz": (co1_dxz_x, co1_dxz), "dx2": (co1_dx2_x, co1_dx2), "tot": (co1_tot_x, co1_tot)},
    2: {"dxy": (co2_dxy_x, co2_dxy), "dyz": (co2_dyz_x, co2_dyz), "dz2": (co2_dz2_x, co2_dz2),
        "dxz": (co2_dxz_x, co2_dxz), "dx2": (co2_dx2_x, co2_dx2), "tot": (co2_tot_x, co2_tot)},
    3: {"dxy": (cob_dxy_x, cob_dxy), "dyz": (cob_dyz_x, cob_dyz), "dz2": (cob_dz2_x, cob_dz2),
        "dxz": (cob_dxz_x, cob_dxz), "dx2": (cob_dx2_x, cob_dx2), "tot": (cob_tot_x, cob_tot)},
    7: {"dxy": (nb1_dxy_x, nb1_dxy), "dyz": (nb1_dyz_x, nb1_dyz), "dz2": (nb1_dz2_x, nb1_dz2),
        "dxz": (nb1_dxz_x, nb1_dxz), "dx2": (nb1_dx2_x, nb1_dx2), "tot": (nb1_tot_x, nb1_tot)},
    8: {"dxy": (nb2_dxy_x, nb2_dxy), "dyz": (nb2_dyz_x, nb2_dyz), "dz2": (nb2_dz2_x, nb2_dz2),
        "dxz": (nb2_dxz_x, nb2_dxz), "dx2": (nb2_dx2_x, nb2_dx2), "tot": (nb2_tot_x, nb2_tot)},
    9: {"dxy": (nbb_dxy_x, nbb_dxy), "dyz": (nbb_dyz_x, nbb_dyz), "dz2": (nbb_dz2_x, nbb_dz2),
        "dxz": (nbb_dxz_x, nbb_dxz), "dx2": (nbb_dx2_x, nbb_dx2), "tot": (nbb_tot_x, nbb_tot)},
}
spin = {
    4: {"dxy": [(ni1_dxy_up_x, ni1_dxy_up), (ni1_dxy_dn_x, ni1_dxy_dn)],
        "dyz": [(ni1_dyz_up_x, ni1_dyz_up), (ni1_dyz_dn_x, ni1_dyz_dn)],
        "dz2": [(ni1_dz2_up_x, ni1_dz2_up), (ni1_dz2_dn_x, ni1_dz2_dn)],
        "dxz": [(ni1_dxz_up_x, ni1_dxz_up), (ni1_dxz_dn_x, ni1_dxz_dn)],
        "dx2": [(ni1_dx2_up_x, ni1_dx2_up), (ni1_dx2_dn_x, ni1_dx2_dn)],
        "tot": [(ni1_tot_up_x, ni1_tot_up), (ni1_tot_dn_x, ni1_tot_dn)]},
    5: {"dxy": [(ni2_dxy_up_x, ni2_dxy_up), (ni2_dxy_dn_x, ni2_dxy_dn)],
        "dyz": [(ni2_dyz_up_x, ni2_dyz_up), (ni2_dyz_dn_x, ni2_dyz_dn)],
        "dz2": [(ni2_dz2_up_x, ni2_dz2_up), (ni2_dz2_dn_x, ni2_dz2_dn)],
        "dxz": [(ni2_dxz_up_x, ni2_dxz_up), (ni2_dxz_dn_x, ni2_dxz_dn)],
        "dx2": [(ni2_dx2_up_x, ni2_dx2_up), (ni2_dx2_dn_x, ni2_dx2_dn)],
        "tot": [(ni2_tot_up_x, ni2_tot_up), (ni2_tot_dn_x, ni2_tot_dn)]},
    6: {"dxy": [(nib_dxy_up_x, nib_dxy_up), (nib_dxy_dn_x, nib_dxy_dn)],
        "dyz": [(nib_dyz_up_x, nib_dyz_up), (nib_dyz_dn_x, nib_dyz_dn)],
        "dz2": [(nib_dz2_up_x, nib_dz2_up), (nib_dz2_dn_x, nib_dz2_dn)],
        "dxz": [(nib_dxz_up_x, nib_dxz_up), (nib_dxz_dn_x, nib_dxz_dn)],
        "dx2": [(nib_dx2_up_x, nib_dx2_up), (nib_dx2_dn_x, nib_dx2_dn)],
        "tot": [(nib_tot_up_x, nib_tot_up), (nib_tot_dn_x, nib_tot_dn)]},
    10: {"dxy": [(ds_dxy_up_x, ds_dxy_up), (ds_dxy_dn_x, ds_dxy_dn)],
         "dyz": [(ds_dyz_up_x, ds_dyz_up), (ds_dyz_dn_x, ds_dyz_dn)],
         "dz2": [(ds_dz2_up_x, ds_dz2_up), (ds_dz2_dn_x, ds_dz2_dn)],
         "dxz": [(ds_dxz_up_x, ds_dxz_up), (ds_dxz_dn_x, ds_dxz_dn)],
         "dx2": [(ds_dx2_up_x, ds_dx2_up), (ds_dx2_dn_x, ds_dx2_dn)],
         "tot": [(ds_tot_up_x, ds_tot_up), (ds_tot_dn_x, ds_tot_dn)]},
    11: {"dxy": [(db_dxy_up_x, db_dxy_up), (db_dxy_dn_x, db_dxy_dn)],
         "dyz": [(db_dyz_up_x, db_dyz_up), (db_dyz_dn_x, db_dyz_dn)],
         "dz2": [(db_dz2_up_x, db_dz2_up), (db_dz2_dn_x, db_dz2_dn)],
         "dxz": [(db_dxz_up_x, db_dxz_up), (db_dxz_dn_x, db_dxz_dn)],
         "dx2": [(db_dx2_up_x, db_dx2_up), (db_dx2_dn_x, db_dx2_dn)],
         "tot": [(db_tot_up_x, db_tot_up), (db_tot_dn_x, db_tot_dn)]},
}

for k, d in plain.items():
    for orb in orbitals:
        add(k, d[orb][0], d[orb][1], orb)
for k, d in spin.items():
    for orb in orbitals:
        for xs, ys in d[orb]:
            add(k, xs, ys, orb)

# ---------------- axes ----------------
tick_font = dict(family=SERIF, size=56, color="black", weight="bold")
layout_axes = {}
shapes = []
for i, (xd, yd, yr, yt, ytt, show_x, top) in enumerate(panels, start=1):
    sx = "" if i == 1 else str(i)
    layout_axes[f"xaxis{sx}"] = dict(
        domain=[fx(xd[0]), fx(xd[1])], range=[-2, 2], anchor=f"y{sx}",
        showline=True, mirror=top, linecolor="black", linewidth=7,
        ticks="inside", ticklen=16, tickwidth=5, tickcolor="black",
        tickvals=x_ticks, ticktext=x_ticktext, showticklabels=show_x,
        showgrid=False, zeroline=False, tickfont=tick_font, ticklabelstandoff=-16,
        automargin=False)
    layout_axes[f"yaxis{sx}"] = dict(
        domain=[fy(yd[1]), fy(yd[0])], range=yr, anchor=f"x{sx}",
        showline=True, mirror=True, linecolor="black", linewidth=7,
        ticks="inside", ticklen=16, tickwidth=5, tickcolor="black",
        tickvals=yt, ticktext=ytt if ytt else [str(v) for v in yt],
        showgrid=False, zeroline=False, tickfont=tick_font, ticklabelstandoff=8,
        automargin=False)
    # dashed Fermi level line
    shapes.append(dict(type="line", xref=f"x{sx}", yref=f"y{sx} domain", x0=0, x1=0, y0=0, y1=1,
                       line=dict(color="black", width=4, dash="26px,16px"), layer="above"))

# ---------------- texts ----------------
annotations = []


def text(x, y, s, size=50, anchor="left", family=SERIF, angle=0):
    annotations.append(dict(x=x, y=y, xref="paper", yref="paper", text=s, showarrow=False,
                            xanchor=anchor, yanchor="middle", textangle=angle,
                            font=dict(family=family, size=size, color="black", weight="bold")))


# subplot titles
text(fx(229), fy(99), "Co<sup>1</sup>-surface", 60)
text(fx(229), fy(442), "Co<sup>2</sup>-surface", 60)
text(fx(229), fy(765), "Co-bulk", 60)
text(fx(2032), fy(116), "Ni<sup>1</sup>-surface", 60)
text(fx(1929), fy(444), "Ni<sup>2</sup>-surface", 60)
text(fx(2037), fy(769), "Ni-bulk", 60)
text(fx(240), fy(1250), "Nb<sup>1</sup>-surface", 60)
text(fx(245), fy(1616), "Nb<sup>2</sup>-surface", 60)
text(fx(266), fy(1949), "Nb-bulk", 60)
text(fx(1937), fy(1246), "surface", 58)
text(fx(1959), fy(1764), "bulk", 58)

# panel letters
for lbl, px, py in [("(a)", 76, 97), ("(b)", 1795, 97), ("(c)", 70, 1276), ("(d)", 1768, 1268)]:
    text(fx(px), fy(py), lbl, 90, "center", "Lato")

# axis titles
for px, py in [(972, 1160), (2660, 1160), (972, 2370), (2660, 2370)]:
    text(fx(px), fy(py), "Energy(eV)", 58, "center")
for px, py in [(104, 553), (1792, 553), (62, 1731), (1760, 1731)]:
    text(fx(px), fy(py), "PDOS（states/eV）", 60, "center", angle=-90)

# legends: rows y px, (line x0, line x1, text x) per column, entries per row
legends = [
    ([99, 172, 243], [(1306, 1362, 1375), (1520, 1576, 1590)], [("dxy", "dyz"), ("dz2", "dxz"), ("dx2", "tot")]),
    ([353, 423, 494], [(3060, 3116, 3129), (3244, 3300, 3314)], [("dxy", "dyz"), ("dz2", "dxz"), ("dx2", "tot")]),
    ([1595, 1659, 1722], [(701, 831, 848), (1010, 1141, 1157)], [("dxy", "dxz"), ("dyz", "dx2"), ("dz2", "tot")]),
    ([1252, 1324, 1395], [(2809, 2940, 2954), (3116, 3250, 3263)], [("dxy", "dxz"), ("dyz", "dx2"), ("dz2", "tot")]),
]
for rows, cols, entries in legends:
    for ry, pair in zip(rows, entries):
        for (lx0, lx1, tx), orb in zip(cols, pair):
            shapes.append(dict(type="line", xref="paper", yref="paper", x0=fx(lx0), x1=fx(lx1),
                               y0=fy(ry), y1=fy(ry), line=dict(color=colors[orb], width=7)))
            text(fx(tx), fy(ry), orb, 56)

fig.update_layout(
    width=FW, height=FH, autosize=False,
    margin=dict(l=0, r=0, t=0, b=0),
    paper_bgcolor="white", plot_bgcolor="white",
    showlegend=False, shapes=shapes, annotations=annotations,
    **layout_axes)

fig.write_html("out.html")
